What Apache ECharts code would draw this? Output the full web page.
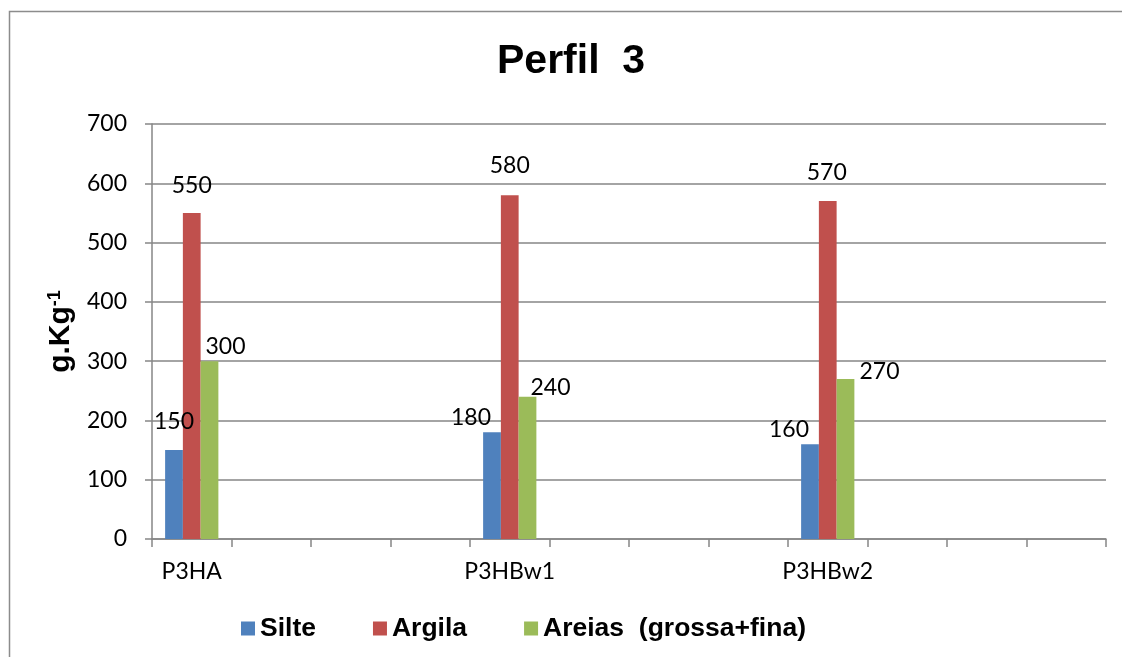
<!DOCTYPE html>
<html>
<head>
<meta charset="utf-8">
<script src="https://cdn.jsdelivr.net/npm/echarts@6/dist/echarts.min.js"></script>
<style>html,body{margin:0;padding:0;background:#fff}#c{width:1122px;height:657px}</style>
</head>
<body>
<div id="c"></div>
<script>
// ---- data ----
const categories = ['P3HA', '', '', '', 'P3HBw1', '', '', '', 'P3HBw2', '', '', ''];
const horizonIndex = [0, 4, 8];
const silte = [150, 180, 160];
const argila = [550, 580, 570];
const areias = [300, 240, 270];
const yTicks = [0, 100, 200, 300, 400, 500, 600, 700];
const seriesNames = ['Silte', 'Argila', 'Areias  (grossa+fina)'];

// ---- label nudges (layout only) ----
const labelNudge = {
  Silte: [[0, -17], [-21, -3], [-21, -3]],
  Argila: [[0, -16], [0, -18], [-1, -17]],
  Areias: [[16, -3], [23, 2], [34, 4]]
};

const colors = ['#4F81BD', '#C0504D', '#9BBB59'];
const numFont = 'Lato';

function build(values, nudges) {
  const out = categories.map(() => null);
  horizonIndex.forEach((ci, i) => {
    out[ci] = { value: values[i], label: { offset: nudges[i] } };
  });
  return out;
}

const chart = echarts.init(document.getElementById('c'));
const labelStyle = {
  show: true, position: 'top', distance: 0,
  color: '#000', fontFamily: numFont, fontSize: 23
};

chart.setOption({
  animation: false,
  backgroundColor: '#fff',
  color: colors,
  title: {
    text: 'Perfil  3',
    left: 492, top: 36,
    textStyle: { fontFamily: 'Liberation Sans', fontWeight: 'bold', fontSize: 41, color: '#000' }
  },
  graphic: [{
    type: 'rect', silent: true,
    shape: { x: 9.5, y: 11.5, width: 1300, height: 800 },
    style: { fill: 'none', stroke: '#8c8c8c', lineWidth: 1.5 }
  }],
  legend: {
    left: 241, top: 615, padding: 0,
    itemWidth: 14, itemHeight: 14, itemGap: 57,
    icon: 'rect',
    textStyle: { fontFamily: 'Liberation Sans', fontWeight: 'bold', fontSize: 26.5, color: '#000' },
    data: seriesNames
  },
  grid: { left: 152, right: 16, top: 124, bottom: 118 },
  xAxis: {
    type: 'category',
    data: categories,
    axisLine: { lineStyle: { color: '#868686', width: 1.5 } },
    axisTick: { show: true, length: 8, lineStyle: { color: '#868686', width: 1.5 } },
    axisLabel: { color: '#000', fontFamily: numFont, fontSize: 23, margin: 21, interval: 0 },
    splitLine: { show: false }
  },
  yAxis: {
    type: 'value',
    min: yTicks[0], max: yTicks[yTicks.length - 1], interval: 100,
    name: '{a|g.Kg}{b|-1}',
    nameLocation: 'middle', nameRotate: 90, nameGap: 69,
    nameTextStyle: {
      rich: {
        a: { fontFamily: 'Liberation Sans', fontWeight: 'bold', fontSize: 30, color: '#000' },
        b: { fontFamily: 'Liberation Sans', fontWeight: 'bold', fontSize: 18, color: '#000', verticalAlign: 'top' }
      }
    },
    axisLine: { show: true, lineStyle: { color: '#868686', width: 1.5 } },
    axisTick: { show: true, length: 7, lineStyle: { color: '#868686', width: 1.5 } },
    axisLabel: { color: '#000', fontFamily: numFont, fontSize: 23, margin: 25 },
    splitLine: { show: true, lineStyle: { color: '#868686', width: 1.5 } }
  },
  series: [
    { name: seriesNames[0], type: 'bar', barGap: '0%', barCategoryGap: '33%', data: build(silte, labelNudge.Silte), label: labelStyle },
    { name: seriesNames[1], type: 'bar', barGap: '0%', barCategoryGap: '33%', data: build(argila, labelNudge.Argila), label: labelStyle },
    { name: seriesNames[2], type: 'bar', barGap: '0%', barCategoryGap: '33%', data: build(areias, labelNudge.Areias), label: labelStyle }
  ]
});
</script>
</body>
</html>
